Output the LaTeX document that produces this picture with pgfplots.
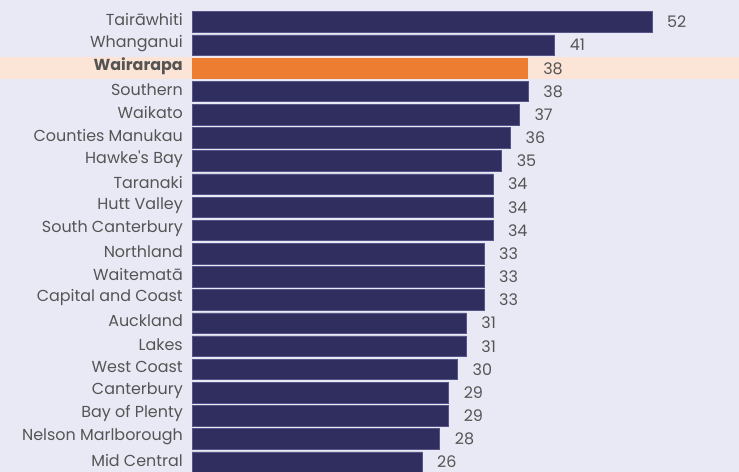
\documentclass[border=0pt]{standalone}
\usepackage{fontspec}
\setmainfont{Poppins}[Ligatures=TeXOff]
\usepackage{pgfplots}
\pgfplotsset{compat=1.18}
\definecolor{bg}{HTML}{E9E9F5}
\definecolor{navy}{HTML}{2F2E5E}
\definecolor{navyedge}{HTML}{55558A}
\definecolor{orangebar}{HTML}{ED7D31}
\definecolor{peach}{HTML}{FCE5D7}
\definecolor{lbl}{HTML}{555555}
\pgfplotstableread{
y v
0 52
1 41
3 38
4 37
5 36
6 35
7 34
8 34
9 34
10 33
11 33
12 33
13 31
14 31
15 30
16 29
17 29
18 28
19 26
}\navydata
\pgfplotstableread{
y v
2 38
}\orangedata
\begin{document}
\begin{tikzpicture}[x=1bp,y=1bp]
\useasboundingbox (0,0) rectangle (739,472);
\fill[bg] (0,0) rectangle (739,472);
\fill[peach] (0,472-79) rectangle (739,472-57);
\begin{axis}[
  at={(192bp,0bp)}, anchor=south west,
  scale only axis, width=547bp, height=472bp,
  xbar, bar shift=0pt, bar width=0.885,
  xmin=0, xmax=61.84,
  y dir=reverse, ymin=-0.95, ymax=19.43,
  axis line style={draw=none},
  major tick length=0pt,
  xtick=\empty,
  ytick={0,...,19},
  yticklabels={Tairāwhiti,Whanganui,\textbf{Wairarapa},Southern,Waikato,Counties Manukau,Hawke's Bay,Taranaki,Hutt Valley,South Canterbury,Northland,Waitematā,Capital and Coast,Auckland,Lakes,West Coast,Canterbury,Bay of Plenty,Nelson Marlborough,Mid Central},
  yticklabel style={anchor=east, inner sep=0pt, xshift=-9bp, yshift=2bp, font=\fontsize{16}{18}\selectfont, text=lbl},
  /pgf/number format/assume math mode=true,
  nodes near coords,
  nodes near coords style={anchor=west, inner sep=0pt, xshift=15bp, font=\fontsize{16}{18}\selectfont, text=lbl},
  point meta=explicit,
]
\addplot[fill=navy, draw=navyedge, line width=0.5bp] table[x=v, y=y, meta=v] {\navydata};
\addplot[fill=orangebar, draw=none] table[x=v, y=y, meta=v] {\orangedata};
\end{axis}
\end{tikzpicture}
\end{document}
